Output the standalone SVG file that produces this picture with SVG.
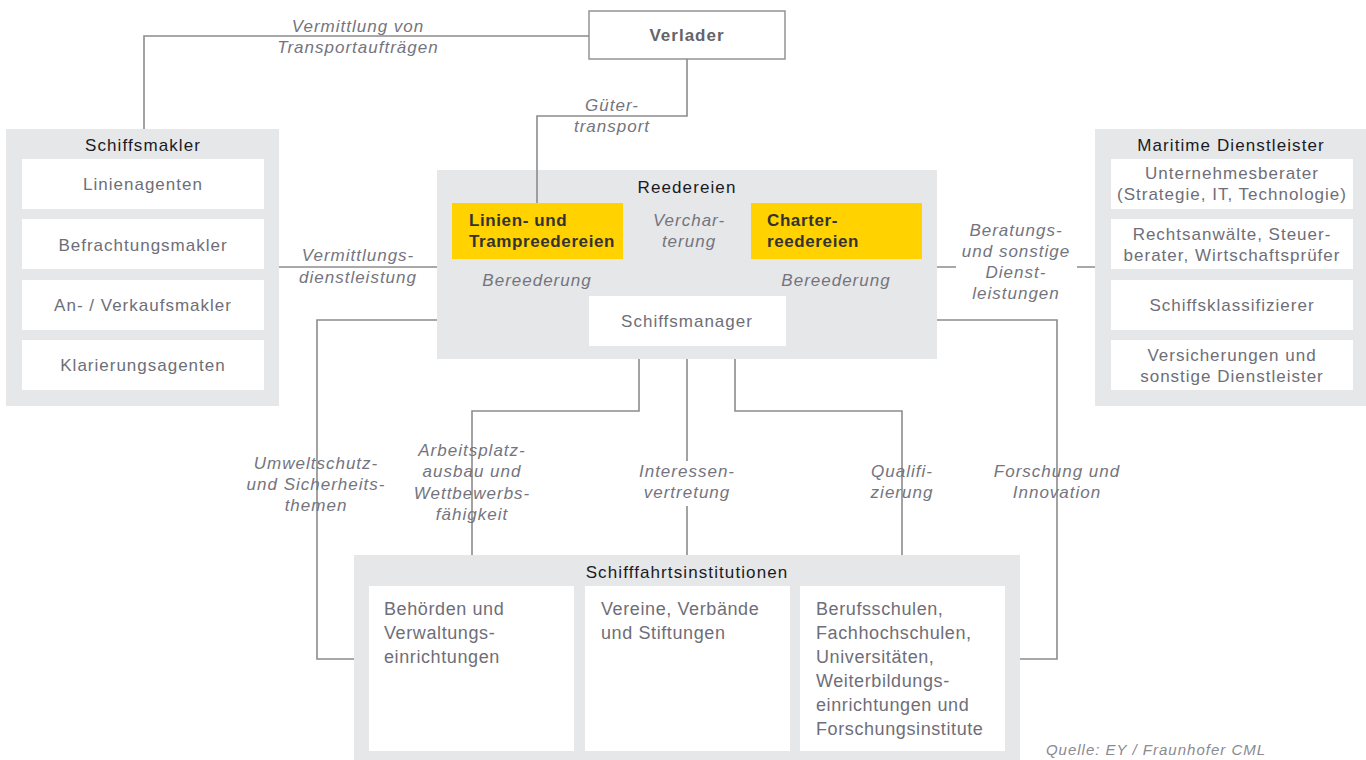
<svg xmlns="http://www.w3.org/2000/svg" width="1366" height="760" viewBox="0 0 1366 760">
<style>
  .grp{fill:#e6e7e9}
  .box{fill:#ffffff}
  .yel{fill:#ffd200}
  text{font-family:"Liberation Sans",Arial,sans-serif;font-size:17px}
  .ttl{fill:#1a1a24;text-anchor:middle;letter-spacing:1.1px}
  .txt{fill:#6e6e78;text-anchor:middle;letter-spacing:1px}
  .txl{fill:#6e6e78;font-size:18px;letter-spacing:0.6px}
  .ytx{fill:#333333;font-weight:bold;letter-spacing:0.6px}
  .lbl{fill:#74747e;font-style:italic;text-anchor:middle;letter-spacing:1px}
  .conn{stroke:#8c8c8c;stroke-width:1.6;fill:none}
</style>
<rect width="1366" height="760" fill="#ffffff"/>

<g id="connectors">
  <path class="conn" d="M144,129 V36 H589"/>
  <path class="conn" d="M687,59 V116 H537 V203"/>
  <path class="conn" d="M279,267 H437"/>
  <path class="conn" d="M937,267 H956 M1077,267 H1095"/>
  <path class="conn" d="M623,231 H648 M727,231 H751"/>
  <path class="conn" d="M537,259 V269 M537,293 V319 H589"/>
  <path class="conn" d="M836,259 V269 M836,293 V319 H786"/>
  <path class="conn" d="M437,320 H317 V659 H354"/>
  <path class="conn" d="M937,320 H1057 V659 H1020"/>
  <path class="conn" d="M639,359 V411 H472 V555"/>
  <path class="conn" d="M687,359 V461 M687,506 V555"/>
  <path class="conn" d="M735,359 V411 H902 V555"/>
</g>

<g id="verlader">
  <rect x="589" y="11" width="196" height="48" fill="#ffffff" stroke="#8c8c8c" stroke-width="1.4"/>
  <text x="687" y="41" class="txt" style="font-weight:bold;fill:#646468">Verlader</text>
</g>

<g id="schiffsmakler">
  <rect class="grp" x="6" y="129" width="273" height="277"/>
  <text x="143" y="151" class="ttl">Schiffsmakler</text>
  <rect class="box" x="22" y="159" width="242" height="50"/>
  <text x="143" y="190" class="txt">Linienagenten</text>
  <rect class="box" x="22" y="219" width="242" height="50"/>
  <text x="143" y="251" class="txt">Befrachtungsmakler</text>
  <rect class="box" x="22" y="280" width="242" height="50"/>
  <text x="143" y="311" class="txt">An- / Verkaufsmakler</text>
  <rect class="box" x="22" y="340" width="242" height="50"/>
  <text x="143" y="371" class="txt">Klarierungsagenten</text>
</g>

<g id="maritime">
  <rect class="grp" x="1095" y="129" width="271" height="277"/>
  <text x="1231" y="151" class="ttl">Maritime Dienstleister</text>
  <rect class="box" x="1111" y="159" width="242" height="50"/>
  <text x="1232" y="179" class="txt">Unternehmesberater</text>
  <text x="1232" y="200" class="txt">(Strategie, IT, Technologie)</text>
  <rect class="box" x="1111" y="219" width="242" height="50"/>
  <text x="1232" y="240" class="txt">Rechtsanwälte, Steuer-</text>
  <text x="1232" y="261" class="txt">berater, Wirtschaftsprüfer</text>
  <rect class="box" x="1111" y="280" width="242" height="50"/>
  <text x="1232" y="311" class="txt">Schiffsklassifizierer</text>
  <rect class="box" x="1111" y="340" width="242" height="50"/>
  <text x="1232" y="361" class="txt">Versicherungen und</text>
  <text x="1232" y="382" class="txt">sonstige Dienstleister</text>
</g>

<g id="reedereien">
  <rect class="grp" x="437" y="170" width="500" height="189"/>
  <text x="687" y="193" class="ttl">Reedereien</text>
  <path class="conn" d="M537,170 V203"/>
</g>

<g id="linienreedereien">
  <rect class="yel" x="452" y="203" width="171" height="56"/>
  <text x="469" y="226" class="ytx">Linien- und</text>
  <text x="469" y="247" class="ytx">Trampreedereien</text>
</g>

<g id="charterreedereien">
  <rect class="yel" x="751" y="203" width="171" height="56"/>
  <text x="767" y="226" class="ytx">Charter-</text>
  <text x="767" y="247" class="ytx">reedereien</text>
</g>

<g id="schiffsmanager">
  <rect class="box" x="589" y="296" width="197" height="50"/>
  <text x="687" y="327" class="txt">Schiffsmanager</text>
</g>

<g id="institutionen">
  <rect class="grp" x="354" y="555" width="666" height="205"/>
  <text x="687" y="578" class="ttl">Schifffahrtsinstitutionen</text>
  <rect class="box" x="369" y="586" width="205" height="165"/>
  <text class="txl" x="384" y="615">Behörden und</text>
  <text class="txl" x="384" y="639">Verwaltungs-</text>
  <text class="txl" x="384" y="663">einrichtungen</text>
  <rect class="box" x="585" y="586" width="205" height="165"/>
  <text class="txl" x="601" y="615">Vereine, Verbände</text>
  <text class="txl" x="601" y="639">und Stiftungen</text>
  <rect class="box" x="800" y="586" width="205" height="165"/>
  <text class="txl" x="816" y="615">Berufsschulen,</text>
  <text class="txl" x="816" y="639">Fachhochschulen,</text>
  <text class="txl" x="816" y="663">Universitäten,</text>
  <text class="txl" x="816" y="687">Weiterbildungs-</text>
  <text class="txl" x="816" y="711">einrichtungen und</text>
  <text class="txl" x="816" y="735">Forschungsinstitute</text>
</g>

<g id="labels">
  <text class="lbl" x="358" y="32">Vermittlung von</text>
  <text class="lbl" x="358" y="53">Transportaufträgen</text>
  <text class="lbl" x="612" y="111">Güter-</text>
  <text class="lbl" x="612" y="132">transport</text>
  <text class="lbl" x="358" y="261">Vermittlungs-</text>
  <text class="lbl" x="358" y="283">dienstleistung</text>
  <text class="lbl" x="689" y="226">Verchar-</text>
  <text class="lbl" x="689" y="247">terung</text>
  <text class="lbl" x="537" y="286">Bereederung</text>
  <text class="lbl" x="836" y="286">Bereederung</text>
  <text class="lbl" x="1016" y="236">Beratungs-</text>
  <text class="lbl" x="1016" y="257">und sonstige</text>
  <text class="lbl" x="1016" y="278">Dienst-</text>
  <text class="lbl" x="1016" y="299">leistungen</text>
  <text class="lbl" x="316" y="469">Umweltschutz-</text>
  <text class="lbl" x="316" y="490">und Sicherheits-</text>
  <text class="lbl" x="316" y="511">themen</text>
  <text class="lbl" x="472" y="456">Arbeitsplatz-</text>
  <text class="lbl" x="472" y="477">ausbau und</text>
  <text class="lbl" x="472" y="499">Wettbewerbs-</text>
  <text class="lbl" x="472" y="520">fähigkeit</text>
  <text class="lbl" x="687" y="477">Interessen-</text>
  <text class="lbl" x="687" y="498">vertretung</text>
  <text class="lbl" x="902" y="477">Qualifi-</text>
  <text class="lbl" x="902" y="498">zierung</text>
  <text class="lbl" x="1057" y="477">Forschung und</text>
  <text class="lbl" x="1057" y="498">Innovation</text>
  <text class="lbl" x="1156" y="755" style="font-size:15px;fill:#8a8a92">Quelle: EY / Fraunhofer CML</text>
</g>
</svg>
